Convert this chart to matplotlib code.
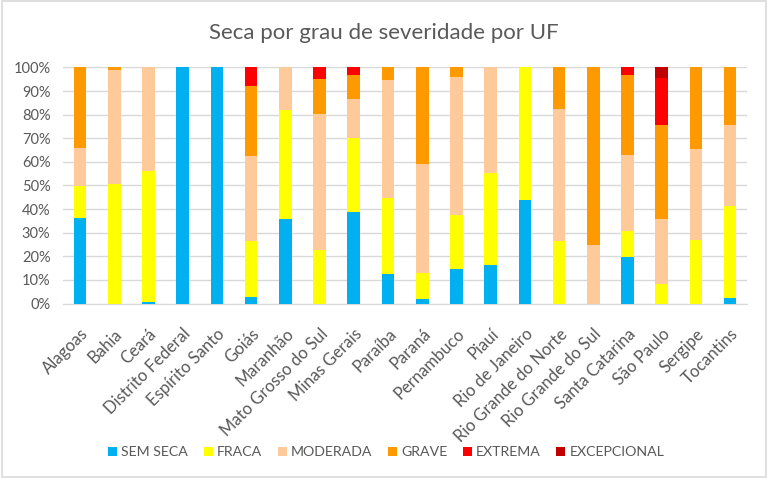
import matplotlib.pyplot as plt
import numpy as np

# UF e percentuais de cada grau de seca
ufs = ['Alagoas', 'Bahia', 'Ceará', 'Distrito Federal', 'Espírito Santo', 'Goiás',
       'Maranhão', 'Mato Grosso do Sul', 'Minas Gerais', 'Paraíba', 'Paraná',
       'Pernambuco', 'Piauí', 'Rio de Janeiro', 'Rio Grande do Norte',
       'Rio Grande do Sul', 'Santa Catarina', 'São Paulo', 'Sergipe', 'Tocantins']
sem_seca = [36.3, 0, 0.6, 100, 100, 2.7, 36.0, 0, 38.8, 12.4, 1.8, 14.7, 16.5, 43.9, 0, 0, 19.8, 0, 0, 2.3]
fraca = [13.3, 50.6, 55.5, 0, 0, 23.9, 46.1, 22.7, 31.3, 32.4, 11.2, 22.7, 38.9, 56.1, 26.6, 0, 11.0, 8.2, 26.8, 38.8]
moderada = [16.4, 48.4, 43.9, 0, 0, 35.7, 17.9, 57.5, 16.6, 49.7, 46.0, 58.5, 44.6, 0, 55.9, 24.6, 32.3, 27.7, 38.5, 34.5]
grave = [34.0, 1.0, 0, 0, 0, 29.9, 0, 14.7, 10.1, 5.5, 41.0, 4.1, 0, 0, 17.5, 75.4, 33.7, 39.5, 34.7, 24.4]
extrema = [0, 0, 0, 0, 0, 7.8, 0, 5.1, 3.2, 0, 0, 0, 0, 0, 0, 0, 3.2, 20.2, 0, 0]
excepcional = [0, 0, 0, 0, 0, 0, 0, 0, 0, 0, 0, 0, 0, 0, 0, 0, 0, 4.4, 0, 0]

series = [('SEM SECA', sem_seca, '#00B0F0'),
          ('FRACA', fraca, '#FFFF00'),
          ('MODERADA', moderada, '#FFCA99'),
          ('GRAVE', grave, '#FF9900'),
          ('EXTREMA', extrema, '#FF0000'),
          ('EXCEPCIONAL', excepcional, '#C00000')]

plt.rcParams['font.family'] = ['Lato', 'DejaVu Sans']
texto = '#595959'

fig = plt.figure(figsize=(7.68, 4.78), dpi=100)
ax = fig.add_axes([0.082, 0.365, 0.891, 0.494])

x = np.arange(len(ufs))
base = np.zeros(len(ufs))
for nome, vals, cor in series:
    vals = np.array(vals)
    ax.bar(x, vals, bottom=base, width=0.37, color=cor, label=nome, zorder=3)
    base += vals

ax.set_xlim(-0.5, len(ufs) - 0.5)
ax.set_ylim(0, 100)
ax.set_yticks(range(0, 101, 10))
ax.set_yticklabels([f'{v}%' for v in range(0, 101, 10)])
ax.set_xticks(x)
ax.set_xticklabels(ufs, rotation=45, ha='right', rotation_mode='anchor')
ax.tick_params(axis='both', length=0, colors=texto)
ax.tick_params(axis='x', pad=16, labelsize=12)
ax.tick_params(axis='y', pad=9, labelsize=10.5)
ax.yaxis.grid(True, color='#D9D9D9', linewidth=1, zorder=0)
for lado in ['top', 'right', 'left']:
    ax.spines[lado].set_visible(False)
ax.spines['bottom'].set_color('#D9D9D9')

fig.suptitle('Seca por grau de severidade por UF', y=0.93, va='center', fontsize=16, color=texto)
fig.legend(loc='center', bbox_to_anchor=(0.503, 0.054), ncol=6, frameon=False,
           fontsize=10.2, labelcolor=texto, handlelength=0.62, handleheight=0.62,
           handletextpad=0.3, columnspacing=1.1)

fig.patches.append(plt.Rectangle((0.002, 0.003), 0.996, 0.994, transform=fig.transFigure,
                                 fill=False, edgecolor='#D9D9D9', linewidth=1.2))

fig.savefig('out.png', dpi=100)
